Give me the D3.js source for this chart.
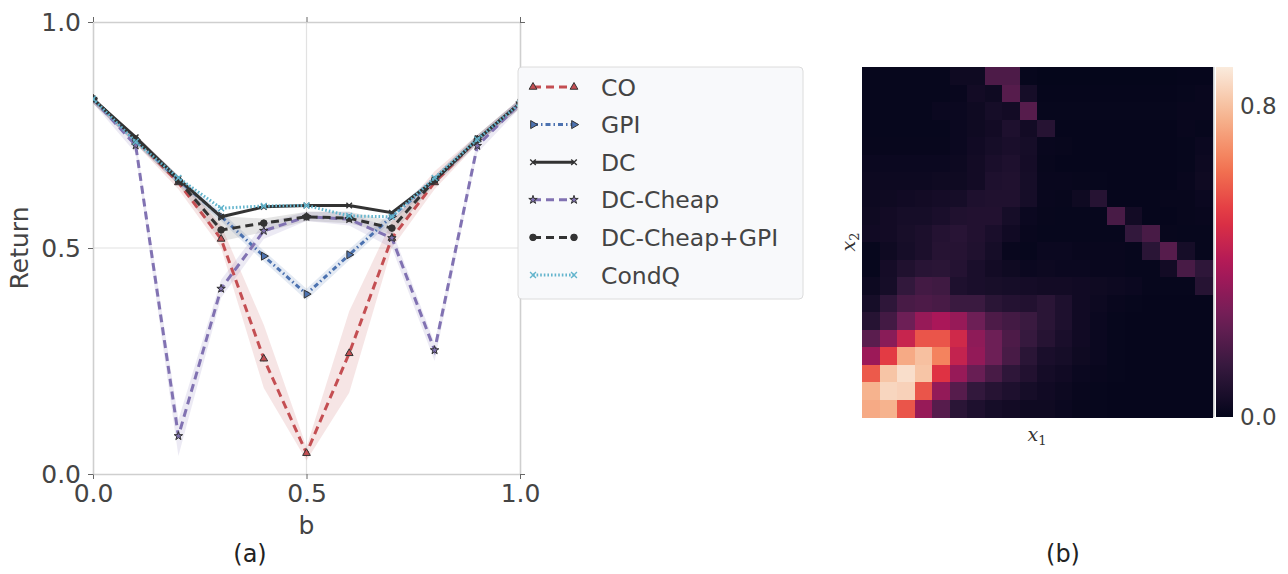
<!DOCTYPE html>
<html>
<head>
<meta charset="utf-8">
<script src="https://cdn.jsdelivr.net/npm/d3@7"></script>
<style>
body { margin: 0; background: #fff; }
text { font-family: "DejaVu Sans", sans-serif; }
</style>
</head>
<body>
<svg id="fig" width="1288" height="574"></svg>
<script>
// ---- data, panel (a)
const bValues = [0, 0.1, 0.2, 0.3, 0.4, 0.5, 0.6, 0.7, 0.8, 0.9, 1.0];
const seriesNames = ["CO", "GPI", "DC", "DC-Cheap", "DC-Cheap+GPI", "CondQ"];

const coMean  = [0.83, 0.74, 0.645, 0.52, 0.255, 0.046, 0.267, 0.522, 0.645, 0.74, 0.82];
const coLow   = [0.82, 0.73, 0.63, 0.50, 0.19, 0.03, 0.18, 0.50, 0.63, 0.73, 0.81];
const coHigh  = [0.83, 0.75, 0.66, 0.55, 0.33, 0.06, 0.36, 0.56, 0.67, 0.75, 0.83];

const gpiMean = [0.83, 0.74, 0.65, 0.57, 0.482, 0.398, 0.485, 0.57, 0.65, 0.74, 0.82];
const gpiLow  = [0.82, 0.73, 0.64, 0.56, 0.47, 0.385, 0.473, 0.56, 0.64, 0.73, 0.81];
const gpiHigh = [0.83, 0.75, 0.66, 0.58, 0.494, 0.41, 0.497, 0.58, 0.66, 0.75, 0.83];

const dcMean  = [0.83, 0.745, 0.653, 0.569, 0.591, 0.594, 0.594, 0.578, 0.65, 0.74, 0.82];

const cheapMean = [0.83, 0.727, 0.084, 0.41, 0.538, 0.569, 0.564, 0.522, 0.274, 0.726, 0.82];
const cheapLow  = [0.82, 0.71, 0.04, 0.39, 0.52, 0.56, 0.55, 0.50, 0.25, 0.71, 0.81];
const cheapHigh = [0.83, 0.74, 0.12, 0.43, 0.555, 0.58, 0.58, 0.54, 0.29, 0.74, 0.83];

const cgMean = [0.83, 0.74, 0.65, 0.54, 0.555, 0.569, 0.566, 0.544, 0.65, 0.74, 0.82];
const cgLow  = [0.82, 0.73, 0.64, 0.515, 0.535, 0.56, 0.555, 0.53, 0.64, 0.73, 0.81];
const cgHigh = [0.83, 0.75, 0.66, 0.57, 0.565, 0.58, 0.58, 0.56, 0.66, 0.75, 0.83];

const condqMean = [0.83, 0.735, 0.655, 0.588, 0.593, 0.594, 0.571, 0.569, 0.655, 0.74, 0.82];

const yTicks = [0, 0.5, 1.0];
const xTicks = [0, 0.5, 1.0];

// ---- data, panel (b): 20x20 grid, row 0 at the top
const heat = [
  [0.01,0.01,0.01,0.01,0.01,0.03,0.03,0.18,0.18,0.01, 0.005,0.005,0.005,0.005,0.005,0.005,0.005,0.005,0.008,0.008],
  [0.01,0.01,0.01,0.01,0.01,0.015,0.04,0.03,0.2,0.05, 0.008,0.008,0.008,0.008,0.008,0.008,0.008,0.008,0.01,0.015],
  [0.01,0.01,0.01,0.01,0.02,0.02,0.03,0.05,0.04,0.2, 0.01,0.01,0.01,0.01,0.01,0.01,0.01,0.01,0.015,0.015],
  [0.01,0.01,0.01,0.01,0.01,0.02,0.03,0.04,0.07,0.04, 0.09,0.008,0.008,0.008,0.008,0.008,0.008,0.008,0.015,0.01],
  [0.012,0.012,0.012,0.012,0.012,0.02,0.035,0.05,0.06,0.05, 0.015,0.012,0.008,0.008,0.008,0.008,0.008,0.008,0.01,0.02],
  [0.02,0.02,0.02,0.02,0.02,0.025,0.04,0.06,0.07,0.045, 0.012,0.008,0.008,0.008,0.008,0.008,0.008,0.008,0.01,0.025],
  [0.025,0.025,0.025,0.025,0.03,0.03,0.04,0.07,0.075,0.05, 0.015,0.015,0.012,0.01,0.008,0.008,0.008,0.008,0.015,0.03],
  [0.025,0.03,0.035,0.04,0.045,0.05,0.07,0.075,0.075,0.05, 0.015,0.012,0.03,0.09,0.008,0.008,0.008,0.012,0.012,0.02],
  [0.03,0.04,0.05,0.05,0.06,0.075,0.08,0.08,0.05,0.02, 0.012,0.01,0.01,0.01,0.17,0.04,0.008,0.008,0.012,0.015],
  [0.035,0.04,0.055,0.065,0.085,0.095,0.08,0.06,0.035,0.015, 0.01,0.01,0.01,0.01,0.01,0.12,0.17,0.012,0.01,0.01],
  [0.01,0.03,0.05,0.065,0.09,0.09,0.075,0.05,0.015,0.01, 0.02,0.02,0.015,0.015,0.015,0.01,0.1,0.2,0.05,0.01],
  [0.01,0.045,0.075,0.095,0.1,0.085,0.06,0.04,0.03,0.02, 0.025,0.02,0.02,0.015,0.015,0.01,0.01,0.04,0.17,0.11],
  [0.025,0.05,0.12,0.16,0.15,0.07,0.06,0.055,0.05,0.045, 0.04,0.04,0.035,0.03,0.025,0.02,0.01,0.01,0.01,0.09],
  [0.05,0.11,0.17,0.18,0.17,0.14,0.14,0.1,0.085,0.08, 0.1,0.07,0.035,0.025,0.015,0.01,0.008,0.008,0.008,0.008],
  [0.09,0.16,0.25,0.34,0.38,0.34,0.25,0.18,0.16,0.14, 0.1,0.07,0.035,0.02,0.01,0.008,0.008,0.008,0.008,0.008],
  [0.21,0.31,0.45,0.58,0.58,0.47,0.32,0.25,0.18,0.13, 0.09,0.06,0.035,0.02,0.01,0.008,0.008,0.008,0.008,0.008],
  [0.35,0.53,0.75,0.8,0.67,0.44,0.33,0.25,0.17,0.1, 0.06,0.05,0.03,0.02,0.01,0.008,0.008,0.008,0.008,0.008],
  [0.59,0.81,0.87,0.81,0.51,0.34,0.24,0.17,0.11,0.08, 0.045,0.035,0.02,0.015,0.01,0.008,0.008,0.008,0.008,0.008],
  [0.77,0.85,0.84,0.58,0.33,0.2,0.12,0.09,0.07,0.05, 0.035,0.025,0.015,0.01,0.008,0.008,0.008,0.008,0.008,0.008],
  [0.75,0.77,0.58,0.34,0.2,0.1,0.07,0.05,0.04,0.03, 0.03,0.02,0.012,0.01,0.008,0.008,0.008,0.008,0.008,0.008]
];
const cbarTicks = [0.0, 0.8];

// ---- figure
const svg = d3.select("#fig");
const tickColor = "#444";
const spineColor = "#cfcfcf";
const bigFont = "25px";

// panel (a)
const x = d3.scaleLinear().domain([0, 1]).range([93, 520]);
const y = d3.scaleLinear().domain([0, 1]).range([474, 22]);

svg.append("defs").append("clipPath").attr("id", "plotclip")
   .append("rect").attr("x", 93).attr("y", 22).attr("width", 427).attr("height", 452);

// grid
svg.append("line").attr("x1", x(0.5)).attr("x2", x(0.5)).attr("y1", y(1)).attr("y2", y(0))
   .attr("stroke", "#e2e2e2").attr("stroke-width", 1.2);
svg.append("line").attr("x1", x(0)).attr("x2", x(1)).attr("y1", y(0.5)).attr("y2", y(0.5))
   .attr("stroke", "#e2e2e2").attr("stroke-width", 1.2);

function styleAxis(g, labels) {
    g.select(".domain").attr("stroke", spineColor).attr("stroke-width", 1.6);
    g.selectAll(".tick line").attr("stroke", "#666").attr("stroke-width", 1);
    g.selectAll(".tick text").attr("fill", tickColor).style("font-size", bigFont);
    if (!labels) g.selectAll(".tick text").remove();
}

const fmt = d3.format(".1f");
svg.append("g").attr("transform", "translate(0,474)")
   .call(d3.axisBottom(x).tickValues(xTicks).tickFormat(fmt).tickSize(5).tickPadding(5).tickSizeOuter(0))
   .call(g => styleAxis(g, true));
svg.append("g").attr("transform", "translate(0,22)")
   .call(d3.axisTop(x).tickValues(xTicks).tickSize(5).tickSizeOuter(0))
   .call(g => styleAxis(g, false));
svg.append("g").attr("transform", "translate(93,0)")
   .call(d3.axisLeft(y).tickValues(yTicks).tickFormat(fmt).tickSize(5).tickPadding(7).tickSizeOuter(0))
   .call(g => styleAxis(g, true));
svg.append("g").attr("transform", "translate(520,0)")
   .call(d3.axisRight(y).tickValues(yTicks).tickSize(5).tickSizeOuter(0))
   .call(g => styleAxis(g, false));

svg.append("text").attr("transform", "translate(28,248) rotate(-90)")
   .attr("text-anchor", "middle").attr("fill", tickColor).style("font-size", bigFont).text("Return");
svg.append("text").attr("x", x(0.5)).attr("y", 534).attr("text-anchor", "middle")
   .attr("fill", tickColor).style("font-size", bigFont).text("b");
svg.append("text").attr("x", 250).attr("y", 562).attr("text-anchor", "middle")
   .attr("fill", "#222").style("font-size", "24px").text("(a)");

// series table
const series = [
  {name: "CO", mean: coMean, low: coLow, high: coHigh, color: "#c44e52", dash: "8,5",
   sym: d3.symbolTriangle, size: 26, rot: 0, fill: "#c44e52"},
  {name: "GPI", mean: gpiMean, low: gpiLow, high: gpiHigh, color: "#4c72b0", dash: "5,3,1.5,3",
   sym: d3.symbolTriangle, size: 28, rot: 90, fill: "#4c72b0"},
  {name: "DC", mean: dcMean, color: "#333333", dash: null,
   sym: d3.symbolTimes, size: 22, rot: 0, fill: "none"},
  {name: "DC-Cheap", mean: cheapMean, low: cheapLow, high: cheapHigh, color: "#8172b2", dash: "8,5",
   sym: d3.symbolStar, size: 22, rot: 0, fill: "#8172b2"},
  {name: "DC-Cheap+GPI", mean: cgMean, low: cgLow, high: cgHigh, color: "#333333", dash: "8,5",
   sym: d3.symbolCircle, size: 34, rot: 0, fill: "#333333"},
  {name: "CondQ", mean: condqMean, color: "#64b5cd", dash: "1.6,2",
   sym: d3.symbolTimes, size: 24, rot: 0, fill: "none"}
];

const plot = svg.append("g").attr("clip-path", "url(#plotclip)");

const area = d3.area().x((d, i) => x(bValues[i])).y0(d => y(d[0])).y1(d => y(d[1]));
series.filter(s => s.low).forEach(s => {
    plot.append("path")
        .datum(s.low.map((v, i) => [v, s.high[i]]))
        .attr("d", area)
        .attr("fill", s.color).attr("fill-opacity", s.name === "DC-Cheap+GPI" ? 0.13 : 0.15);
});

const line = d3.line().x((d, i) => x(bValues[i])).y(d => y(d));

function drawMarker(g, s, cx, cy) {
    const isStroke = s.fill === "none";
    g.append("path")
     .attr("d", d3.symbol().type(s.sym).size(s.size)())
     .attr("transform", `translate(${cx},${cy}) rotate(${s.rot})`)
     .attr("fill", isStroke ? "none" : s.fill)
     .attr("stroke", isStroke ? s.color : "#333")
     .attr("stroke-width", isStroke ? 1.4 : 1);
}

series.forEach(s => {
    plot.append("path").datum(s.mean).attr("d", line)
        .attr("fill", "none").attr("stroke", s.color).attr("stroke-width", 3)
        .attr("stroke-dasharray", s.dash);
    s.mean.forEach((v, i) => drawMarker(plot, s, x(bValues[i]), y(v)));
});

// legend
const lg = svg.append("g");
lg.append("rect").attr("x", 518).attr("y", 67).attr("width", 285).attr("height", 232)
  .attr("rx", 4).attr("fill", "#f8f9fb").attr("stroke", "#dcdcdc").attr("stroke-width", 1);
series.forEach((s, i) => {
    const ly = 87 + i * 37.6;
    lg.append("line").attr("x1", 533).attr("x2", 574).attr("y1", ly).attr("y2", ly)
      .attr("stroke", s.color).attr("stroke-width", 3).attr("stroke-dasharray", s.dash);
    drawMarker(lg, s, 533, ly);
    drawMarker(lg, s, 574, ly);
    lg.append("text").attr("x", 601).attr("y", ly + 8.5).attr("fill", tickColor)
      .style("font-size", "23.5px").text(s.name);
});

// panel (b)
const rocket = d3.piecewise(d3.interpolateRgb, ["#03051a", "#35193e", "#701f57", "#ad1759",
                                                 "#e13342", "#f37651", "#f6b48f", "#faebdd"]);
const cmax = 0.9;
const color = d3.scaleSequential(rocket).domain([0, cmax]);

const n = heat.length;
const hx = d3.scaleBand().domain(d3.range(n)).range([862, 1212]);
const hy = d3.scaleBand().domain(d3.range(n)).range([67, 417]);

const cells = svg.append("g").attr("shape-rendering", "crispEdges");
heat.forEach((row, r) => {
    cells.selectAll(null).data(row).enter().append("rect")
        .attr("x", (d, c) => hx(c)).attr("y", hy(r))
        .attr("width", hx.bandwidth() + 0.5).attr("height", hy.bandwidth() + 0.5)
        .attr("fill", d => color(d));
});

svg.append("text").attr("x", 1037).attr("y", 441).attr("text-anchor", "middle")
   .style("font-family", "'DejaVu Serif', serif").style("font-style", "italic")
   .style("font-size", "19px").attr("fill", "#333")
   .html('x<tspan dy="4" style="font-size:13px;font-style:normal">1</tspan>');
svg.append("text").attr("transform", "translate(855,242) rotate(-90)").attr("text-anchor", "middle")
   .style("font-family", "'DejaVu Serif', serif").style("font-style", "italic")
   .style("font-size", "19px").attr("fill", "#333")
   .html('x<tspan dy="4" style="font-size:13px;font-style:normal">2</tspan>');

// colorbar
const cy = d3.scaleLinear().domain([0, cmax]).range([417, 67]);
const grad = svg.select("defs").append("linearGradient").attr("id", "cbar")
   .attr("x1", 0).attr("x2", 0).attr("y1", 1).attr("y2", 0);
d3.range(0, 1.0001, 0.05).forEach(t => {
    grad.append("stop").attr("offset", t).attr("stop-color", rocket(t));
});
svg.append("rect").attr("x", 1213).attr("y", 67).attr("width", 1.5).attr("height", 350).attr("fill", "#c8c8c8");
svg.append("rect").attr("x", 1216).attr("y", 67).attr("width", 17).attr("height", 350).attr("fill", "url(#cbar)");
svg.append("g").attr("transform", "translate(1233,0)")
   .call(d3.axisRight(cy).tickValues(cbarTicks).tickFormat(fmt).tickSize(0).tickPadding(7))
   .call(g => {
       g.select(".domain").remove();
       g.selectAll(".tick text").attr("fill", tickColor).style("font-size", "23px");
   });

svg.append("text").attr("x", 1063).attr("y", 562).attr("text-anchor", "middle")
   .attr("fill", "#222").style("font-size", "24px").text("(b)");
</script>
</body>
</html>
